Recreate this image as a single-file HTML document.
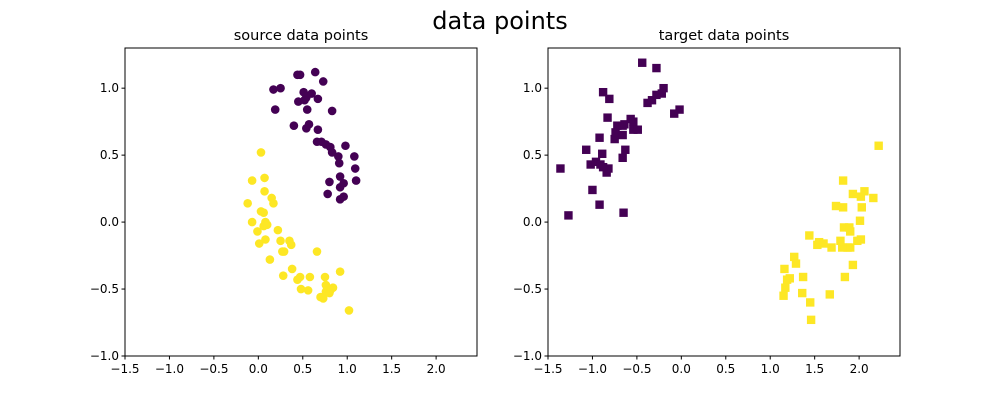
<!DOCTYPE html>
<html><head><meta charset="utf-8">
<style>
body{margin:0;background:#fff;}
svg{display:block;font-family:"DejaVu Sans","Liberation Sans",sans-serif;}
</style></head>
<body>
<svg id="chart" width="1000" height="400" viewBox="0 0 1000 400">
<rect width="1000" height="400" fill="#fff"/>
<text x="500" y="29" text-anchor="middle" font-size="24">data points</text>
</svg>
<script>
const xTicks = [-1.5,-1.0,-0.5,0.0,0.5,1.0,1.5,2.0];
const yTicks = [-1.0,-0.5,0.0,0.5,1.0];
const xTickLabels = ["−1.5","−1.0","−0.5","0.0","0.5","1.0","1.5","2.0"];
const yTickLabels = ["−1.0","−0.5","0.0","0.5","1.0"];
const srcPurpleX = [0.17,0.25,0.19,0.44,0.45,0.54,0.52,0.64,0.51,0.60,0.55,0.47,0.40,0.57,0.73,0.67,0.83,0.67,0.66,0.71,0.76,0.81,0.83,0.90,0.98,1.08,1.09,0.91,0.92,0.80,0.78,0.92,0.96,0.92,1.10,0.96,0.54];
const srcPurpleY = [0.99,1.00,0.84,1.10,0.90,0.93,0.91,1.12,0.97,0.96,0.84,1.10,0.72,0.73,1.05,0.92,0.83,0.69,0.60,0.60,0.58,0.56,0.52,0.49,0.57,0.49,0.40,0.44,0.34,0.30,0.21,0.26,0.19,0.17,0.31,0.29,0.70];
const srcYellowX = [0.03,-0.07,0.07,0.15,0.17,0.07,-0.12,0.03,0.08,-0.07,-0.01,0.22,0.06,0.25,0.13,0.35,0.29,0.27,0.37,0.38,0.44,0.48,0.47,0.56,0.58,0.28,0.66,0.75,0.76,0.73,0.80,0.84,0.92,0.70,0.76,0.81,1.02,0.08,0.01,0.10,0.06];
const srcYellowY = [0.52,0.31,0.33,0.18,0.14,0.23,0.14,0.08,0.00,0.00,-0.07,-0.06,-0.03,-0.14,-0.28,-0.14,-0.22,-0.22,-0.17,-0.35,-0.43,-0.50,-0.41,-0.51,-0.41,-0.40,-0.22,-0.41,-0.52,-0.57,-0.53,-0.49,-0.37,-0.56,-0.47,-0.51,-0.66,-0.13,-0.16,-0.02,0.07];
const tgtPurpleX = [-1.36,-1.27,-1.07,-1.02,-0.92,-0.96,-1.00,-0.92,-0.88,-0.81,-0.91,-0.84,-0.83,-0.72,-0.75,-0.74,-0.66,-0.66,-0.64,-0.63,-0.66,-0.54,-0.54,-0.49,-0.57,-0.44,-0.38,-0.33,-0.28,-0.20,-0.22,-0.28,-0.02,-0.08,-0.65,-0.82,-0.88,-0.89];
const tgtPurpleY = [0.40,0.05,0.54,0.43,0.63,0.45,0.24,0.13,0.97,0.92,0.43,0.37,0.78,0.72,0.62,0.67,0.72,0.65,0.73,0.54,0.48,0.75,0.69,0.69,0.77,1.19,0.89,0.91,1.15,1.00,0.96,0.95,0.84,0.81,0.07,0.40,0.41,0.51];
const tgtYellowX = [1.15,1.17,1.19,1.16,1.22,1.27,1.29,1.37,1.36,1.44,1.45,1.46,1.53,1.55,1.60,1.67,1.69,1.74,1.82,1.82,1.83,1.90,1.87,1.81,1.84,1.89,1.93,1.93,2.02,2.03,2.01,2.02,2.06,2.16,2.22,1.90,1.79,1.98];
const tgtYellowY = [-0.55,-0.49,-0.43,-0.35,-0.42,-0.26,-0.31,-0.41,-0.53,-0.10,-0.60,-0.73,-0.17,-0.15,-0.16,-0.54,-0.19,0.12,0.31,0.11,-0.04,-0.07,-0.19,-0.19,-0.41,-0.04,-0.32,0.21,0.19,0.11,0.01,-0.13,0.23,0.18,0.57,-0.19,-0.14,-0.14];

const NS = "http://www.w3.org/2000/svg";
const svg = document.getElementById("chart");
function mk(tag, attrs, parent){const e=document.createElementNS(NS,tag);for(const k in attrs)e.setAttribute(k,attrs[k]);(parent||svg).appendChild(e);return e;}

function panel(left, title, name, sets, square){
  const top=48, w=352, h=308;
  const xmin=-1.5, xmax=2.46, ymin=-1.0, ymax=1.3;
  const sx = v => left + (v-xmin)/(xmax-xmin)*w;
  const sy = v => top + h - (v-ymin)/(ymax-ymin)*h;
  const g = mk("g",{});
  
  
  const t = mk("text",{x:left+w/2,y:40,"text-anchor":"middle","font-size":"14.5"},g);
  t.textContent = title;
  
  
  sets.forEach(s=>{
    s.xs.forEach((xv,i)=>{
      const cx=sx(xv), cy=sy(s.ys[i]);
      let m;
      if(square) m = mk("rect",{x:cx-4.2,y:cy-4.2,width:8.4,height:8.4,fill:s.color},g);
      else m = mk("circle",{cx:cx,cy:cy,r:4.3,fill:s.color},g);
      
      
    });
  });
  const frame = mk("rect",{x:left,y:top,width:w,height:h,fill:"none",stroke:"#000","stroke-width":1},g);
  
  
  xTicks.forEach((v,i)=>{
    const x=sx(v);
    mk("line",{x1:x,x2:x,y1:top+h,y2:top+h+3.5,stroke:"#000"},g);
    const lb = mk("text",{x:x,y:top+h+17,"text-anchor":"middle","font-size":"12"},g);
    lb.textContent = xTickLabels[i];
    
    
  });
  yTicks.forEach((v,i)=>{
    const y=sy(v);
    mk("line",{x1:left-3.5,x2:left,y1:y,y2:y,stroke:"#000"},g);
    const lb = mk("text",{x:left-6,y:y+4,"text-anchor":"end","font-size":"12"},g);
    lb.textContent = yTickLabels[i];
    
    
  });
}
panel(125,"source data points","source-panel",[
  {xs:srcPurpleX,ys:srcPurpleY,color:"#440154",name:"source-class0"},
  {xs:srcYellowX,ys:srcYellowY,color:"#fde725",name:"source-class1"}],false);
panel(548,"target data points","target-panel",[
  {xs:tgtPurpleX,ys:tgtPurpleY,color:"#440154",name:"target-class0"},
  {xs:tgtYellowX,ys:tgtYellowY,color:"#fde725",name:"target-class1"}],true);
</script>
</body></html>
